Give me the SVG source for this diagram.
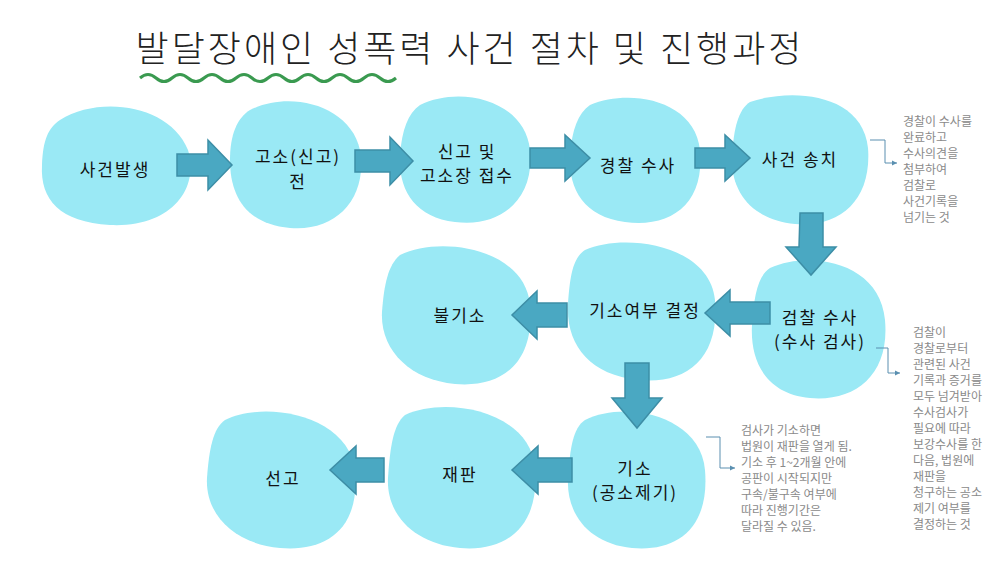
<svg xmlns="http://www.w3.org/2000/svg" width="1000" height="563" viewBox="0 0 1000 563">
<defs>
<style>
.b{fill:#9ae9f5}
.t{font-family:"Noto Sans CJK KR","Noto Sans",sans-serif;font-size:17px;fill:#111;text-anchor:middle;letter-spacing:2px}
.n{font-family:"Noto Sans CJK KR","Noto Sans",sans-serif;font-size:12px;fill:#8a8a8a}
.a{fill:#4aa8c2;stroke:#3d8ea6;stroke-width:1.5}
.c{fill:none;stroke:#5a8fb0;stroke-width:1;marker-end:url(#m)}
</style>
<marker id="m" markerWidth="6" markerHeight="6" refX="5" refY="3" orient="auto"><path d="M0,0.5L5,3L0,5.5z" fill="#5a8fb0"/></marker>
</defs>
<rect width="1000" height="563" fill="#fff"/>
<text x="470" y="62" font-family="'Noto Sans CJK KR',sans-serif" font-size="36" font-weight="300" fill="#222" text-anchor="middle" letter-spacing="3">발달장애인 성폭력 사건 절차 및 진행과정</text>
<path d="M140,78 q8,-7 16,0 t16,0 t16,0 t16,0 t16,0 t16,0 t16,0 t16,0 t16,0 t16,0 t16,0 t16,0 t16,0 t16,0 t16,0 t16,0" fill="none" stroke="#3a9a50" stroke-width="3"/>
<g id="n1"><path class="b" d="M60,120 C100,95 170,105 188,150 C200,190 170,228 110,225 C60,222 40,200 42,165 C43,140 48,128 60,120z"/><text class="t" x="115" y="176">사건발생</text></g>
<g id="n2"><path class="b" d="M250,110 C290,90 350,105 360,150 C368,200 335,232 290,228 C245,224 230,195 230,160 C230,135 237,118 250,110z"/><text class="t" x="298" y="163">고소(신고)</text><text class="t" x="298" y="188">전</text></g>
<g id="n3"><path class="b" d="M420,105 C460,85 525,100 530,150 C535,200 500,228 455,222 C415,217 398,190 400,155 C402,130 408,113 420,105z"/><text class="t" x="467" y="158">신고 및</text><text class="t" x="467" y="182">고소장 접수</text></g>
<g id="n4"><path class="b" d="M590,105 C630,88 695,100 700,150 C705,205 670,228 625,222 C585,217 568,190 570,155 C572,130 578,113 590,105z"/><text class="t" x="638" y="172">경찰 수사</text></g>
<g id="n5"><path class="b" d="M750,102 C790,88 862,92 868,148 C872,200 840,228 795,224 C752,220 730,192 732,155 C734,128 738,110 750,102z"/><text class="t" x="800" y="166">사건 송치</text></g>
<g id="n6"><path class="b" d="M770,268 C810,250 880,262 885,320 C890,375 855,402 810,398 C765,394 750,360 752,325 C754,295 758,276 770,268z"/><text class="t" x="820" y="324">검찰 수사</text><text class="t" x="820" y="348">(수사 검사)</text></g>
<g id="n7"><path class="b" d="M585,250 C625,232 710,245 715,300 C720,360 685,385 638,380 C590,375 566,345 568,305 C570,275 573,258 585,250z"/><text class="t" x="645" y="317">기소여부 결정</text></g>
<g id="n8"><path class="b" d="M400,255 C440,235 525,248 530,305 C535,365 500,388 455,384 C410,380 380,350 382,312 C384,285 388,265 400,255z"/><text class="t" x="460" y="322">불기소</text></g>
<g id="n9"><path class="b" d="M585,420 C625,400 700,415 705,470 C710,530 675,552 632,548 C590,544 566,515 568,478 C570,448 573,428 585,420z"/><text class="t" x="635" y="475">기소</text><text class="t" x="635" y="499">(공소제기)</text></g>
<g id="n10"><path class="b" d="M405,415 C445,396 530,410 535,468 C540,528 505,552 460,548 C415,544 386,515 388,478 C390,448 393,425 405,415z"/><text class="t" x="460" y="481">재판</text></g>
<g id="n11"><path class="b" d="M225,420 C265,400 350,415 355,472 C360,530 325,552 280,548 C235,544 205,515 207,478 C209,450 213,428 225,420z"/><text class="t" x="283" y="485">선고</text></g>
<g id="connectors">
<path class="a" d="M177,154 H208 V140 L232,165 L208,190 V176 H177z"/>
<path class="a" d="M355,150 H390 V137 L413,161 L390,185 V172 H355z"/>
<path class="a" d="M530,148 H565 V135 L590,158 L565,181 V168 H530z"/>
<path class="a" d="M695,148 H725 V135 L750,158 L725,181 V168 H695z"/>
<path class="a" d="M800,213 H823 V247 H836 L811,275 L786,247 H799z"/>
<path class="a" d="M770,302 H730 V290 L705,313 L730,336 V324 H770z"/>
<path class="a" d="M567,303 H537 V291 L512,315 L537,339 V327 H567z"/>
<path class="a" d="M625,363 H649 V398 H662 L637,428 L612,398 H625z"/>
<path class="a" d="M572,458 H538 V446 L512,470 L538,494 V482 H572z"/>
<path class="a" d="M384,458 H356 V446 L330,470 L356,494 V482 H384z"/>
<path class="c" d="M870,140 H885 V163 H897"/>
<path class="c" d="M876,348 H888 V373 H900"/>
<path class="c" d="M706,437 H720 V468 H735"/>
</g>
<g class="n">
<text x="903" y="126">경찰이 수사를</text><text x="903" y="142">완료하고</text><text x="903" y="158">수사의견을</text><text x="903" y="174">첨부하여</text><text x="903" y="190">검찰로</text><text x="903" y="206">사건기록을</text><text x="903" y="222">넘기는 것</text>
<text x="913" y="337">검찰이</text><text x="913" y="353">경찰로부터</text><text x="913" y="369">관련된 사건</text><text x="913" y="385">기록과 증거를</text><text x="913" y="401">모두 넘겨받아</text><text x="913" y="417">수사검사가</text><text x="913" y="433">필요에 따라</text><text x="913" y="449">보강수사를 한</text><text x="913" y="465">다음, 법원에</text><text x="913" y="481">재판을</text><text x="913" y="497">청구하는 공소</text><text x="913" y="513">제기 여부를</text><text x="913" y="529">결정하는 것</text>
<text x="741" y="435">검사가 기소하면</text><text x="741" y="451">법원이 재판을 열게 됨.</text><text x="741" y="467">기소 후 1~2개월 안에</text><text x="741" y="483">공판이 시작되지만</text><text x="741" y="499">구속/불구속 여부에</text><text x="741" y="515">따라 진행기간은</text><text x="741" y="531">달라질 수 있음.</text>
</g>
</svg>
